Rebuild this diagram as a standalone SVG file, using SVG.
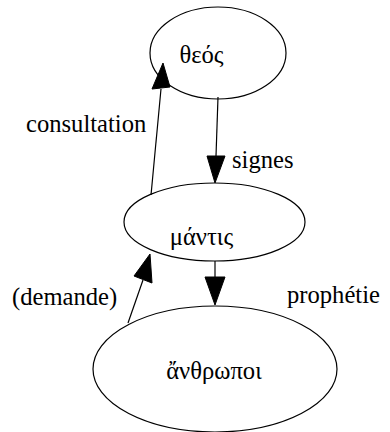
<svg xmlns="http://www.w3.org/2000/svg" width="390" height="432" viewBox="0 0 390 432">
<style>
  text { font-family: 'Liberation Serif', 'Times New Roman', 'DejaVu Serif', serif; font-size: 24.6px; fill: #000; }
  .node ellipse { fill: none; stroke: #000; stroke-width: 1.2; }
  .node text { text-anchor: middle; }
  .edge line { stroke: #000; stroke-width: 1.2; }
  .edge polygon { fill: #000; stroke: #000; stroke-width: 1; }
</style>
<rect width="390" height="432" fill="#fff"/>
<g id="theos" class="node">
  <ellipse cx="218" cy="53" rx="68" ry="46"/>
  <text x="201.5" y="63">θεός</text>
</g>
<g id="mantis" class="node">
  <ellipse cx="214.5" cy="222" rx="90.5" ry="39"/>
  <text x="201.5" y="245">μάντις</text>
</g>
<g id="anthropoi" class="node">
  <ellipse cx="215" cy="369" rx="122" ry="63"/>
  <text x="214" y="379">ἄνθρωποι</text>
</g>
<g id="connectors">
  <g class="edge">
    <line x1="151" y1="195" x2="161" y2="89"/>
    <polygon points="152,89 170,87 163,63"/>
    <text x="26" y="132">consultation</text>
  </g>
  <g class="edge">
    <line x1="218" y1="97" x2="216" y2="156"/>
    <polygon points="207,156 225,156 215,183"/>
    <text x="232" y="168">signes</text>
  </g>
  <g class="edge">
    <line x1="215" y1="261" x2="215" y2="277"/>
    <polygon points="205,277 225,277 215,305"/>
    <text x="287" y="303">prophétie</text>
  </g>
  <g class="edge">
    <line x1="128" y1="323" x2="143" y2="280"/>
    <polygon points="134,276 152,283 150,254"/>
    <text x="12" y="305">(demande)</text>
  </g>
</g>
</svg>
